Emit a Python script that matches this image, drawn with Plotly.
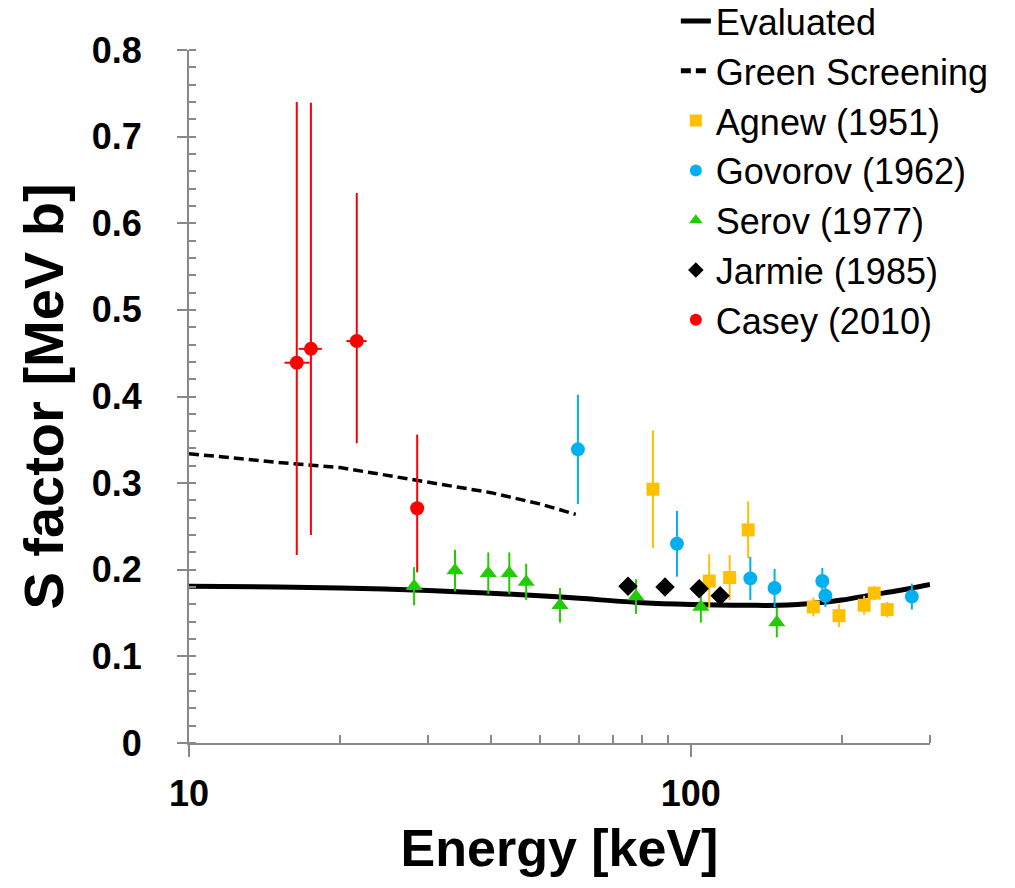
import plotly.graph_objects as go

# ---- data ----
eval_E = [10, 15, 20, 30, 40, 50, 60, 80, 100, 130, 150, 180, 200, 230, 260, 300]
eval_S = [0.181, 0.180, 0.179, 0.176, 0.173, 0.170, 0.167, 0.162, 0.160, 0.159,
          0.159, 0.162, 0.165, 0.171, 0.176, 0.183]

green_E = [10, 15, 20, 30, 40, 50, 59]
green_S = [0.334, 0.324, 0.318, 0.301, 0.289, 0.276, 0.264]

agnew_E = [84.1, 108.9, 119.6, 130.2, 175.6, 197.6, 221.7, 232.3, 246.5]
agnew_S = [0.293, 0.187, 0.191, 0.246, 0.157, 0.147, 0.159, 0.173, 0.154]
agnew_err = [0.068, 0.031, 0.026, 0.033, 0.011, 0.013, 0.011, 0.008, 0.009]

govorov_E = [59.6, 93.9, 131.5, 147.0, 183.0, 185.6, 276.0]
govorov_S = [0.339, 0.230, 0.190, 0.179, 0.187, 0.170, 0.169]
govorov_err = [0.063, 0.038, 0.025, 0.022, 0.015, 0.013, 0.015]

serov_E = [28.1, 33.9, 39.5, 43.5, 47.0, 54.9, 77.8, 104.8, 148.5]
serov_S = [0.181, 0.199, 0.196, 0.196, 0.186, 0.159, 0.169, 0.157, 0.139]
serov_err = [0.022, 0.024, 0.024, 0.024, 0.021, 0.020, 0.020, 0.018, 0.017]

jarmie_E = [75.0, 88.9, 104.0, 114.5]
jarmie_S = [0.181, 0.180, 0.178, 0.170]
jarmie_err = [0.003, 0.003, 0.003, 0.003]

casey_E = [16.4, 17.5, 21.6, 28.5]
casey_S = [0.439, 0.455, 0.464, 0.271]
casey_err_plus = [0.301, 0.284, 0.171, 0.085]
casey_err_minus = [0.222, 0.215, 0.118, 0.074]
casey_Eerr_plus = [1.0, 0.9, 1.0, 0.6]
casey_Eerr_minus = [0.9, 0.95, 1.0, 0.6]

FONT = "Arial, Liberation Sans, Helvetica, sans-serif"
AXIS_GRAY = "#898989"

fig = go.Figure()

fig.add_trace(go.Scatter(x=eval_E, y=eval_S, mode="lines", name="Evaluated",
                         line=dict(color="black", width=5, shape="spline")))
fig.add_trace(go.Scatter(x=green_E, y=green_S, mode="lines", name="Green Screening",
                         line=dict(color="black", width=3.5, dash="10px,5px")))


def add_points(E, S, err, name, color, symbol, size, err_minus=None, ex_p=None, ex_m=None):
    ey = dict(type="data", array=err, color=color, thickness=2, width=0, visible=True)
    if err_minus is not None:
        ey["symmetric"] = False
        ey["arrayminus"] = err_minus
    kw = {}
    if ex_p is not None:
        kw["error_x"] = dict(type="data", symmetric=False, array=ex_p, arrayminus=ex_m,
                             color=color, thickness=2, width=0, visible=True)
    fig.add_trace(go.Scatter(x=E, y=S, mode="markers", name=name,
                             marker=dict(color=color, symbol=symbol, size=size,
                                         line=dict(width=0)),
                             error_y=ey, **kw))


add_points(agnew_E, agnew_S, agnew_err, "Agnew (1951)", "#FFC000", "square", 13)
add_points(govorov_E, govorov_S, govorov_err, "Govorov (1962)", "#00B0F0", "circle", 14)
add_points(serov_E, serov_S, serov_err, "Serov (1977)", "#22CC00", "triangle-up", 15)
add_points(jarmie_E, jarmie_S, jarmie_err, "Jarmie (1985)", "black", "diamond", 15)
add_points(casey_E, casey_S, casey_err_plus, "Casey (2010)", "#FF0000", "circle", 14,
           err_minus=casey_err_minus, ex_p=casey_Eerr_plus, ex_m=casey_Eerr_minus)

fig.update_layout(
    width=1015, height=888,
    margin=dict(l=189, r=85, t=50, b=145, autoexpand=False),
    paper_bgcolor="white", plot_bgcolor="white",
    font=dict(family=FONT, color="black"),
    showlegend=True,
    legend=dict(x=0.657, y=1.085, xanchor="left", yanchor="top",
                font=dict(family=FONT, size=36, color="black"),
                bgcolor="rgba(0,0,0,0)", itemsizing="constant",
                traceorder="normal"),
)

fig.update_xaxes(
    type="log", range=[1, 2.4771],
    showline=True, linecolor=AXIS_GRAY, linewidth=2,
    showgrid=False, zeroline=False,
    tickmode="array", tickvals=[10, 100], ticktext=["10", "100"],
    ticks="outside", ticklen=12, tickwidth=2, tickcolor=AXIS_GRAY,
    tickfont=dict(family=FONT, size=36, color="black", weight="bold"),
    ticklabelstandoff=6,
    minor=dict(ticks="inside", ticklen=8, tickwidth=2, tickcolor=AXIS_GRAY,
               tickmode="array", tickvals=[20, 30, 40, 50, 60, 70, 80, 90, 200, 300],
               showgrid=False),
    title=dict(text="<b>Energy [keV]</b>", font=dict(family=FONT, size=52, color="black"),
               standoff=16),
)

fig.update_yaxes(
    range=[0, 0.8],
    showline=True, linecolor=AXIS_GRAY, linewidth=2,
    showgrid=False, zeroline=False,
    dtick=0.1, tick0=0,
    ticks="outside", ticklen=10, tickwidth=2, tickcolor=AXIS_GRAY,
    tickfont=dict(family=FONT, size=36, color="black", weight="bold"),
    ticklabelstandoff=28,
    minor=dict(ticks="inside", ticklen=7, tickwidth=2, tickcolor=AXIS_GRAY,
               dtick=0.02, tick0=0, showgrid=False),
    title=dict(text="<b>S factor [MeV b]</b>", font=dict(family=FONT, size=56, color="black"),
               standoff=10),
)

fig.write_html("out.html")
